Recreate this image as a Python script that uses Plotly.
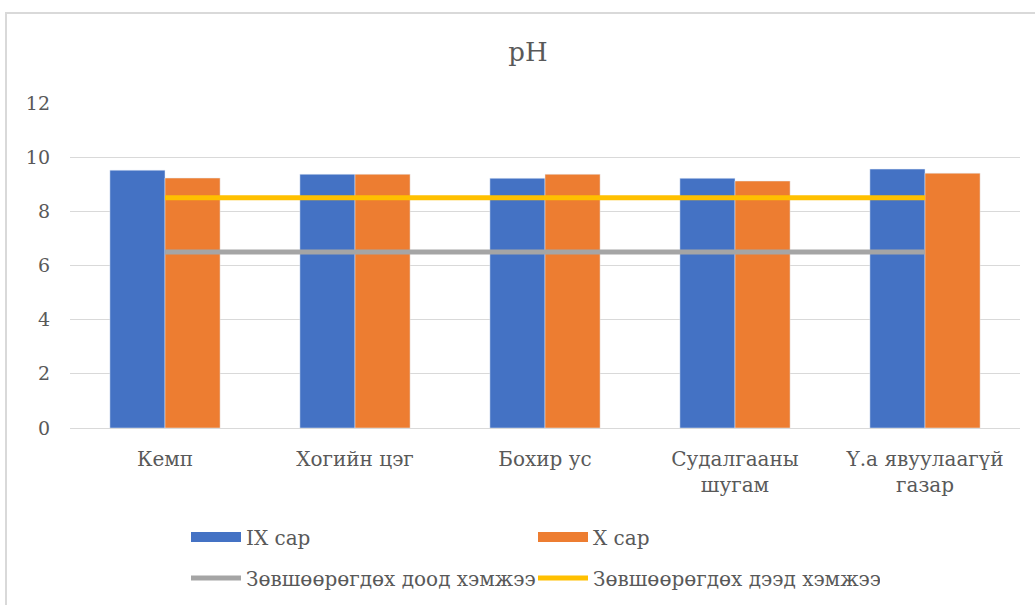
import plotly.graph_objects as go

categories = ["Кемп", "Хогийн цэг", "Бохир ус", "Судалгааны<br>шугам", "Ү.а явуулаагүй<br>газар"]
ix_sar = [9.52, 9.37, 9.22, 9.22, 9.56]
x_sar = [9.23, 9.37, 9.37, 9.12, 9.41]
lower_limit = [6.5, 6.5, 6.5, 6.5, 6.5]
upper_limit = [8.5, 8.5, 8.5, 8.5, 8.5]
y_ticks = [0, 2, 4, 6, 8, 10, 12]

BLUE = "#4472C4"
ORANGE = "#ED7D31"
GRAY = "#A5A5A5"
YELLOW = "#FFC000"
FONT = "DejaVu Serif"
TXT = "#595959"

fig = go.Figure()
fig.add_trace(go.Bar(x=categories, y=ix_sar, name="IX сар", marker_color=BLUE,
                     showlegend=False, legendgroup="ix"))
fig.add_trace(go.Bar(x=categories, y=x_sar, name="X сар", marker_color=ORANGE,
                     showlegend=False, legendgroup="x"))
fig.add_trace(go.Scatter(x=categories, y=lower_limit, mode="lines",
                         name="Зөвшөөрөгдөх доод хэмжээ",
                         line=dict(color=GRAY, width=5), legend="legend2"))
fig.add_trace(go.Scatter(x=categories, y=upper_limit, mode="lines",
                         name="Зөвшөөрөгдөх дээд хэмжээ",
                         line=dict(color=YELLOW, width=5), legend="legend2"))
# legend proxies for bars (wide swatches like the original)
fig.add_trace(go.Scatter(x=[None], y=[None], mode="lines", name="IX сар",
                         line=dict(color=BLUE, width=10), legendgroup="ix", legend="legend"))
fig.add_trace(go.Scatter(x=[None], y=[None], mode="lines", name="X сар",
                         line=dict(color=ORANGE, width=10), legendgroup="x", legend="legend"))

W, H = 1035, 605
PW, PH = 950, 325
def px_x(p):
    return (p - 70) / PW
def px_y(p):
    return (428 - p) / PH

leg_common = dict(orientation="h", xanchor="left", yanchor="middle",
                  xref="container", yref="container",
                  entrywidth=282, entrywidthmode="pixels", traceorder="normal",
                  font=dict(family=FONT, size=20, color=TXT), itemwidth=50,
                  bgcolor="rgba(0,0,0,0)")

fig.update_layout(
    width=W, height=H,
    margin=dict(l=70, r=15, t=103, b=177),
    paper_bgcolor="white", plot_bgcolor="white",
    barmode="group", bargap=0.42, bargroupgap=0,
    title=dict(text="pH", x=528 / W, xref="container", y=1 - 52 / H, yanchor="middle",
               font=dict(family=FONT, size=26, color=TXT)),
    font=dict(family=FONT, color=TXT, size=20),
    showlegend=True,
    legend=dict(x=186 / W, y=1 - 537 / H, **leg_common),
    legend2=dict(x=186 / W, y=1 - 578 / H, **leg_common),
    xaxis=dict(showgrid=False, showline=True, linecolor="#D9D9D9", linewidth=1,
               ticks="", tickfont=dict(family=FONT, size=20, color=TXT),
               ticklabelstandoff=13),
    yaxis=dict(range=[0, 12], tickvals=y_ticks, showgrid=True, gridcolor="#D9D9D9",
               gridwidth=1, zeroline=False, showline=False, ticks="",
               tickfont=dict(family=FONT, size=19, color=TXT), ticklabelstandoff=19),
    shapes=[dict(type="rect", xref="paper", yref="paper",
                 x0=px_x(6), x1=px_x(1045), y0=px_y(700), y1=px_y(13),
                 line=dict(color="#D9D9D9", width=2), fillcolor="rgba(0,0,0,0)",
                 layer="below")],
)

fig.write_html("out.html", config={"displayModeBar": False},
               post_script="document.body.style.margin='0';document.body.style.padding='0';")
